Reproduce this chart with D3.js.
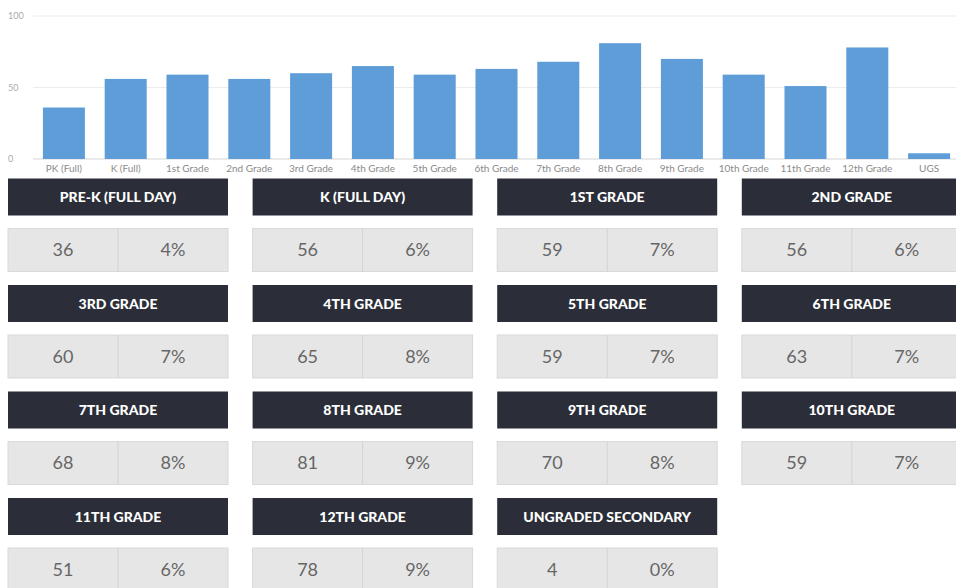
<!DOCTYPE html>
<html>
<head>
<meta charset="utf-8">
<script src="https://cdn.jsdelivr.net/npm/d3@7"></script>
<style>
  body { margin: 0; background: #fff; }
  svg { display: block; font-family: Lato, "Open Sans", sans-serif; }
</style>
</head>
<body>
<div id="chart"></div>
<script>
const grades = ["PK (Full)", "K (Full)", "1st Grade", "2nd Grade", "3rd Grade", "4th Grade", "5th Grade",
    "6th Grade", "7th Grade", "8th Grade", "9th Grade", "10th Grade", "11th Grade", "12th Grade", "UGS"];
const titles = ["PRE-K (FULL DAY)", "K (FULL DAY)", "1ST GRADE", "2ND GRADE", "3RD GRADE", "4TH GRADE",
    "5TH GRADE", "6TH GRADE", "7TH GRADE", "8TH GRADE", "9TH GRADE", "10TH GRADE", "11TH GRADE",
    "12TH GRADE", "UNGRADED SECONDARY"];
const counts = [36, 56, 59, 56, 60, 65, 59, 63, 68, 81, 70, 59, 51, 78, 4];
const percents = ["4%", "6%", "7%", "6%", "7%", "8%", "7%", "7%", "8%", "9%", "8%", "7%", "6%", "9%", "0%"];
const yTicks = [0, 50, 100];

const W = 956, H = 588;
const svg = d3.select("#chart").append("svg").attr("width", W).attr("height", H);

// bar chart
const x = d3.scaleBand().domain(grades).range([33, 960]).paddingInner(0.32).paddingOuter(0.16);
const y = d3.scaleLinear().domain([0, 100]).range([159, 16]);

svg.append("g").selectAll("line")
    .data(yTicks)
    .enter().append("line")
    .attr("x1", 33).attr("x2", W)
    .attr("y1", d => y(d)).attr("y2", d => y(d))
    .attr("stroke", d => d === 0 ? "#d6d6d6" : "#ececec")
    .attr("stroke-width", 1);

svg.append("g").selectAll("text")
    .data(yTicks)
    .enter().append("text")
    .attr("x", 8).attr("y", d => y(d) + 3)
    .attr("fill", "#aaa")
    .style("font-size", "9px")
    .text(d => d);

svg.append("g").selectAll("rect")
    .data(counts)
    .enter().append("rect")
    .attr("x", (d, i) => x(grades[i]))
    .attr("width", x.bandwidth())
    .attr("y", d => y(d))
    .attr("height", d => y(0) - y(d))
    .attr("fill", "#5f9dd9");

svg.append("g").selectAll("text")
    .data(grades)
    .enter().append("text")
    .attr("x", d => x(d) + x.bandwidth() / 2)
    .attr("y", 172)
    .attr("text-anchor", "middle")
    .attr("fill", "#8a8a8a")
    .style("font-size", "10px")
    .text(d => d);

// tiles
const col = d3.scaleLinear().domain([0, 1]).range([8, 252.6]);
const row = d3.scaleLinear().domain([0, 1]).range([178.5, 285]);
const tileW = 220, headH = 37, boxH = 43, boxGap = 50;

const tiles = svg.append("g").selectAll("g")
    .data(titles)
    .enter().append("g")
    .attr("transform", (d, i) => `translate(${col(i % 4)},${row(Math.floor(i / 4))})`);

tiles.append("rect")
    .attr("width", tileW).attr("height", headH)
    .attr("fill", "#2b2e38");

tiles.append("text")
    .attr("x", tileW / 2).attr("y", headH / 2 + 5)
    .attr("text-anchor", "middle")
    .attr("fill", "#fff")
    .style("font-size", "14px")
    .style("font-weight", "900")
    .text(d => d);

tiles.append("rect")
    .attr("y", boxGap)
    .attr("width", tileW).attr("height", boxH)
    .attr("fill", "#e6e6e6")
    .attr("stroke", "#d9d9d9");

tiles.append("line")
    .attr("x1", tileW / 2).attr("x2", tileW / 2)
    .attr("y1", boxGap).attr("y2", boxGap + boxH)
    .attr("stroke", "#d2d2d2");

tiles.append("text")
    .attr("x", tileW / 4).attr("y", boxGap + boxH / 2 + 6)
    .attr("text-anchor", "middle")
    .attr("fill", "#666")
    .style("font-size", "18px")
    .text((d, i) => counts[i]);

tiles.append("text")
    .attr("x", tileW * 3 / 4).attr("y", boxGap + boxH / 2 + 6)
    .attr("text-anchor", "middle")
    .attr("fill", "#666")
    .style("font-size", "18px")
    .text((d, i) => percents[i]);
</script>
</body>
</html>
